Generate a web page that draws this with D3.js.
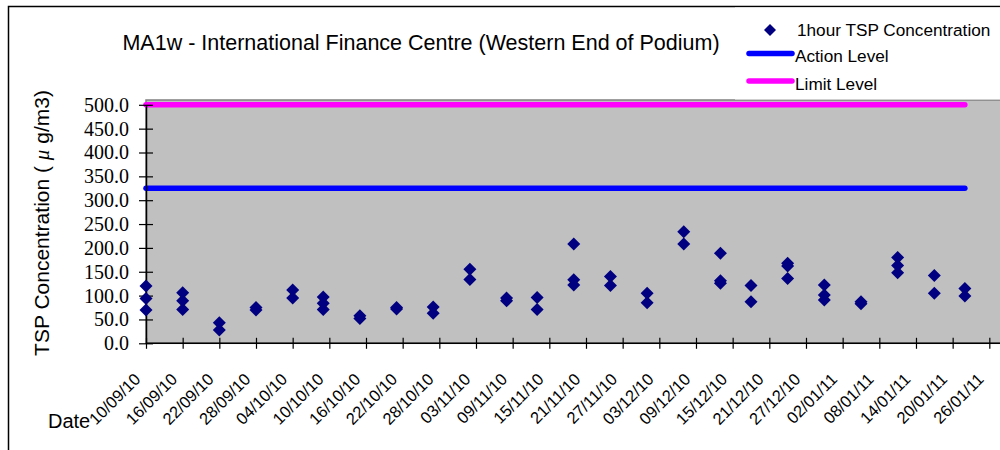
<!DOCTYPE html>
<html>
<head>
<meta charset="utf-8">
<script src="https://cdn.jsdelivr.net/npm/d3@7"></script>
<style>
  html, body { margin: 0; padding: 0; background: #fff; }
  svg { display: block; }
</style>
</head>
<body>
<svg id="chart" width="1000" height="450"></svg>
<script>
// ---- data ----
const sampleDates = ["10/09/10","16/09/10","22/09/10","28/09/10","04/10/10","09/10/10","15/10/10","21/10/10",
  "27/10/10","02/11/10","08/11/10","13/11/10","19/11/10","25/11/10","01/12/10","07/12/10","13/12/10",
  "18/12/10","24/12/10","30/12/10","05/01/11","11/01/11","17/01/11","22/01/11"];
const reading1 = [120,106,43,75,112,97,58,75,76,155,95,96,208,140,105,234,189,121,168,122,87,180,142,115];
const reading2 = [94,89,28,70,95,84,52,72,63,134,89,71,133,121,85,208,131,87,162,101,83,163,105,99];
const reading3 = [70,71,null,null,null,71,null,null,null,null,null,null,122,null,null,null,126,null,136,91,null,148,null,null];
const actionLevel = sampleDates.map(() => 325);
const limitLevel = sampleDates.map(() => 500);
const xTickLabels = ["10/09/10","16/09/10","22/09/10","28/09/10","04/10/10","10/10/10","16/10/10","22/10/10",
  "28/10/10","03/11/10","09/11/10","15/11/10","21/11/10","27/11/10","03/12/10","09/12/10","15/12/10",
  "21/12/10","27/12/10","02/01/11","08/01/11","14/01/11","20/01/11","26/01/11"];
const yTicks = [0,50,100,150,200,250,300,350,400,450,500];

// ---- setup ----
const parse = d3.utcParse("%d/%m/%y");
const svg = d3.select("#chart");
const plotLeft = 146, plotTop = 100, plotBottom = 343.3, plotRight = 1010;

const x = d3.scaleUtc()
  .domain([parse("10/09/10"), parse("01/02/11")])
  .range([plotLeft, plotLeft + 144 * 6.111]);
const y = d3.scaleLinear().domain([0, 500]).range([plotBottom, 104.8]);

// outer frame
svg.append("rect").attr("x", 8.5).attr("y", 6.5).attr("width", 1000).attr("height", 500)
  .attr("fill", "#fff").attr("stroke", "#000").attr("stroke-width", 1.5);

// plot area
svg.append("rect").attr("x", plotLeft).attr("y", plotTop)
  .attr("width", plotRight - plotLeft).attr("height", plotBottom - plotTop)
  .attr("fill", "#C0C0C0").attr("stroke", "#808080").attr("stroke-width", 1.5);

// title
svg.append("text").attr("x", 421).attr("y", 50).attr("text-anchor", "middle")
  .attr("font-family", "Liberation Sans, Arial, sans-serif").attr("font-size", 21.5)
  .text("MA1w - International Finance Centre (Western End of Podium)");

// level lines
const lineGen = d3.line().x((d, i) => x(parse(sampleDates[i]))).y(d => y(d));
svg.append("path").datum(actionLevel).attr("d", lineGen)
  .attr("fill", "none").attr("stroke", "#0000FF").attr("stroke-width", 5.5).attr("stroke-linecap", "round");
svg.append("path").datum(limitLevel).attr("d", lineGen)
  .attr("fill", "none").attr("stroke", "#FF00FF").attr("stroke-width", 5.5).attr("stroke-linecap", "round");

// y axis
const yAxis = d3.axisLeft(y).tickValues(yTicks).tickFormat(d3.format(".1f")).tickSizeInner(7).tickSizeOuter(0).tickPadding(4);
const gy = svg.append("g").attr("transform", `translate(${plotLeft},0)`).call(yAxis);
gy.select(".domain").attr("stroke", "#000").attr("stroke-width", 1.5);
gy.selectAll(".tick line").attr("x2", -7).attr("x1", 7).attr("stroke", "#000").attr("stroke-width", 1.2);
gy.selectAll(".tick text").attr("font-family", "Liberation Serif, Times New Roman, serif").attr("font-size", 20).attr("fill", "#000").attr("x", -17);

// x axis
const xAxis = d3.axisBottom(x).tickValues(xTickLabels.map(parse)).tickFormat(d3.utcFormat("%d/%m/%y")).tickSizeOuter(0);
const gx = svg.append("g").attr("transform", `translate(0,${plotBottom})`).call(xAxis);
gx.select(".domain").attr("stroke", "#000").attr("stroke-width", 1.5).attr("d", `M${plotLeft},0H${plotRight}`);
gx.selectAll(".tick line").attr("y1", -5.5).attr("y2", 5.5).attr("stroke", "#000").attr("stroke-width", 1.2);
gx.selectAll(".tick text")
  .attr("font-family", "Liberation Sans, Arial, sans-serif").attr("font-size", 16.5).attr("fill", "#000")
  .attr("text-anchor", "end").attr("y", 0).attr("dy", 0)
  .attr("transform", "translate(-5,37) rotate(-45)");

// data points
const pts = [];
[reading1, reading2, reading3].forEach(arr => arr.forEach((v, i) => { if (v != null) pts.push({d: parse(sampleDates[i]), v}); }));
const r = 6.5;
svg.append("g").selectAll("path").data(pts).join("path")
  .attr("d", p => { const cx = x(p.d), cy = y(p.v); return `M${cx},${cy - r}L${cx + r},${cy}L${cx},${cy + r}L${cx - r},${cy}Z`; })
  .attr("fill", "#000080");

// legend
const lg = svg.append("g").attr("font-family", "Liberation Sans, Arial, sans-serif").attr("font-size", 17.2);
lg.append("rect").attr("x", 735).attr("y", 7.5).attr("width", 270).attr("height", 92).attr("fill", "#fff");
lg.append("path").attr("d", `M770,${30 - 6}L776,30L770,36L764,30Z`).attr("fill", "#000080");
lg.append("text").attr("x", 797).attr("y", 35.5).text("1hour TSP Concentration");
lg.append("line").attr("x1", 749).attr("x2", 792).attr("y1", 53.5).attr("y2", 53.5)
  .attr("stroke", "#0000FF").attr("stroke-width", 5.5).attr("stroke-linecap", "round");
lg.append("text").attr("x", 795).attr("y", 61.5).text("Action Level");
lg.append("line").attr("x1", 749).attr("x2", 792).attr("y1", 81).attr("y2", 81)
  .attr("stroke", "#FF00FF").attr("stroke-width", 5.5).attr("stroke-linecap", "round");
lg.append("text").attr("x", 795).attr("y", 89.5).text("Limit Level");

// axis titles
const yt = svg.append("text").attr("transform", "translate(49,223) rotate(-90)").attr("text-anchor", "middle")
  .attr("font-family", "Liberation Sans, Arial, sans-serif").attr("font-size", 21);
yt.append("tspan").text("TSP Concentration ( ");
yt.append("tspan").attr("font-style", "italic").attr("font-family", "Liberation Serif, serif").text("μ");
yt.append("tspan").text(" g/m3)");

svg.append("text").attr("x", 48).attr("y", 428)
  .attr("font-family", "Liberation Sans, Arial, sans-serif").attr("font-size", 20).text("Date");
</script>
</body>
</html>
